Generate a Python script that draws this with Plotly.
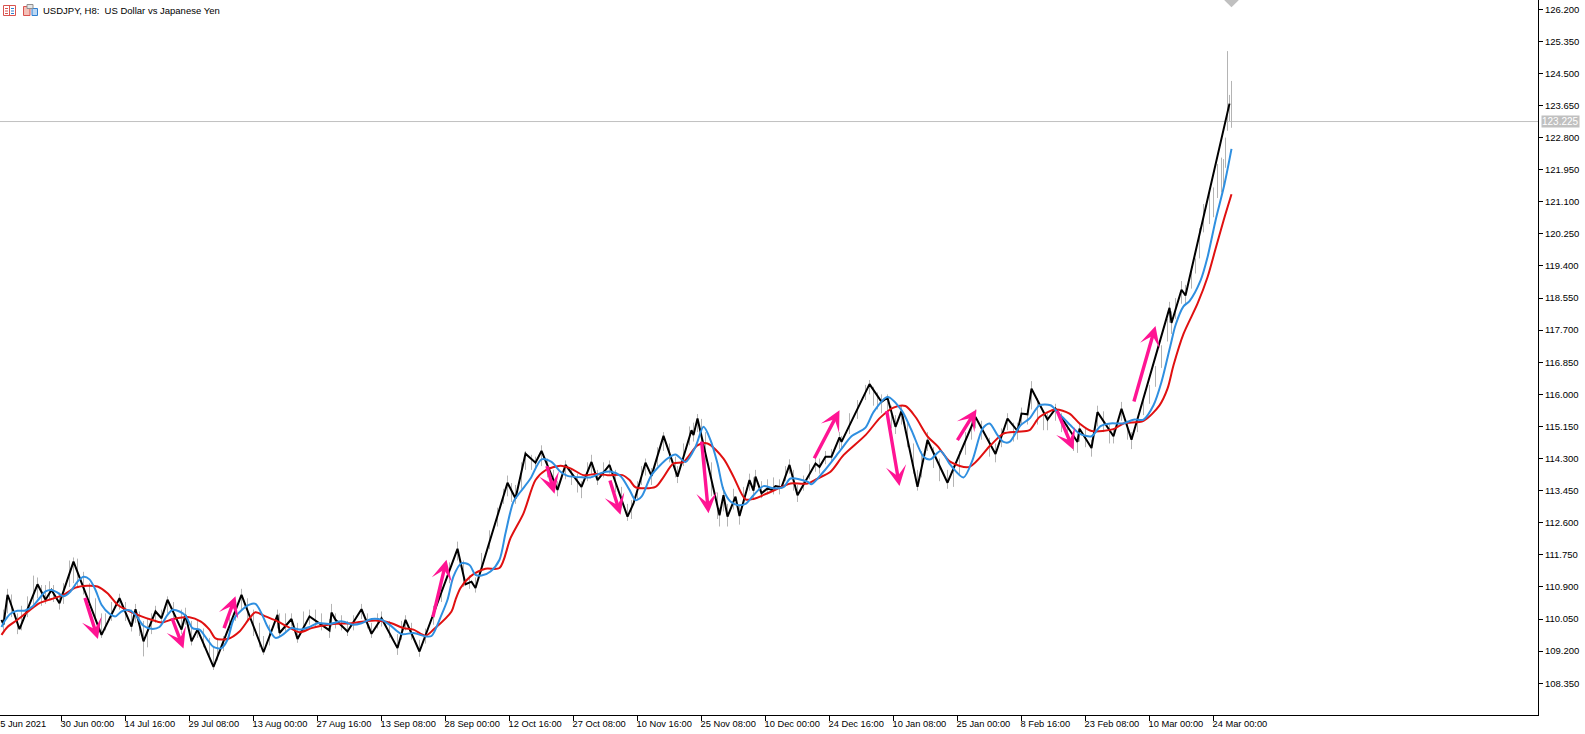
import plotly.graph_objects as go

# zigzag vertices (bar number, price)
zig_bars = [0, 1, 3, 4, 9, 18, 22, 25, 29, 36, 50, 59, 65, 67, 71, 77, 80, 83, 90, 92, 95, 98, 106, 120, 131, 138, 139, 145, 148, 154, 164, 165, 167, 173, 180, 185, 190, 198, 202, 209,
            228, 232, 235, 237, 253, 257, 262, 267, 270, 278, 282, 290, 295, 298, 304, 313, 316, 322, 325, 331, 338, 345, 346, 348, 359, 361, 363, 367, 369, 374, 376, 377, 380, 383, 385, 387, 390, 394, 398,
            407, 409, 412, 415, 419, 420, 434, 440, 443, 447, 450, 458, 463, 473, 487, 497, 503, 508, 510, 513, 515, 523, 527, 538, 539, 545, 548, 556, 560, 565, 584, 585, 590, 592, 614]
zig_prices = [110.03, 109.90, 110.69, 110.56, 109.78, 110.97, 110.56, 110.82, 110.47, 111.57, 109.63, 110.60, 109.85, 110.31, 109.46, 110.25, 110.07, 110.56, 109.77, 110.16, 109.46, 109.77, 108.78, 110.69, 109.17, 110.16, 109.68, 110.05, 109.52, 110.12, 109.75, 110.22, 110.03, 109.72, 110.31, 109.66, 110.07, 109.28, 110.03, 109.19,
              111.91, 110.97, 111.04, 110.87, 113.66, 113.24, 114.43, 114.19, 114.50, 113.47, 114.13, 113.55, 114.21, 113.73, 114.13, 112.76, 113.11, 114.19, 113.84, 114.90, 113.82, 115.05, 114.92, 115.36, 112.80, 113.33, 112.76, 113.29, 112.78, 113.73, 113.45, 113.82, 113.38, 113.51, 113.47, 113.57, 113.54, 114.13, 113.33,
              114.17, 114.08, 114.35, 114.35, 114.86, 114.74, 116.27, 115.80, 115.91, 115.14, 115.56, 113.55, 114.79, 113.66, 115.40, 114.42, 115.36, 115.03, 115.49, 115.47, 116.15, 115.33, 115.62, 114.74, 115.09, 114.58, 115.53, 114.89, 115.62, 114.80, 118.29, 117.89, 118.77, 118.62, 123.70]

# fast moving average
blue_bars = [0, 2, 4.5, 8, 11.5, 15.5, 19, 22, 25, 28, 31, 34.5, 38, 41, 44, 47, 50, 54, 57, 60, 64, 67, 71, 75, 79, 83, 85.5, 89, 92, 95.5, 99, 103, 106, 110, 113, 116, 120, 124, 127, 130, 133, 137, 140.5, 145, 149, 154, 158, 164, 170, 176, 180, 185, 190, 194, 200, 206, 212, 215, 220, 223,
             226, 230, 234, 237, 240, 244.5, 249, 252, 256, 259.5, 264.5, 270, 275, 279.5, 283, 291, 294.5, 300, 305, 309.5, 314, 317, 320, 325, 333, 337, 342, 347, 351, 354.5, 358, 361, 364.5, 368, 372, 376, 381, 386, 391,
             394.5, 403, 405, 411, 419.5, 425, 432, 436, 443, 450, 455, 461, 464.5, 469.5, 474.5, 481, 485.5, 490.5, 494, 498, 501, 504, 509.5, 514, 519, 524.5, 528, 534.5, 539, 545, 549.5, 554.5, 561, 566, 571, 576, 580, 584.5, 587, 591, 594, 599.5, 603, 607, 611.5, 615]
blue_prices = [109.84, 110.03, 110.19, 110.27, 110.27, 110.38, 110.60, 110.78, 110.82, 110.75, 110.65, 110.78, 111.04, 111.17, 111.10, 110.82, 110.43, 110.19, 110.12, 110.25, 110.28, 110.16, 109.87, 109.79, 109.84, 110.16, 110.29, 110.25, 110.14, 109.81, 109.77, 109.50, 109.31, 109.28, 109.50, 110.03, 110.28, 110.43, 110.45, 110.20, 109.85, 109.55, 109.63, 109.81, 109.77, 109.84, 109.94, 109.92, 109.99, 109.90, 109.94, 110.05, 110.03, 109.90, 109.65, 109.68, 109.59, 109.60, 110.16, 110.56,
               111.18, 111.53, 111.48, 111.22, 111.20, 111.31, 111.62, 112.32, 113.16, 113.42, 113.77, 114.28, 114.21, 113.95, 113.84, 113.80, 113.80, 113.92, 113.95, 113.84, 113.47, 113.20, 113.29, 113.86, 114.30, 114.41, 114.21, 114.61, 115.14, 114.79, 114.17, 113.47, 113.16, 113.07, 113.10, 113.33, 113.57, 113.51, 113.54,
               113.77, 113.69, 113.62, 113.95, 114.52, 114.89, 115.12, 115.53, 115.93, 115.58, 115.05, 114.35, 114.28, 114.50, 114.13, 113.80, 114.26, 115.09, 115.23, 114.92, 114.74, 114.74, 115.18, 115.36, 115.71, 115.71, 115.53, 115.18, 114.96, 114.89, 115.16, 115.23, 115.23, 115.33, 115.33, 115.71, 116.33, 117.30, 117.83, 118.33, 118.47, 119.01, 119.63, 120.60, 121.57, 122.50]

# slow moving average
red_bars = [0, 3, 8, 14, 19, 25, 31, 37, 43, 48, 53, 58, 63, 70, 75, 80, 86, 94, 99.5, 104, 107, 113, 119, 124, 127, 132, 138, 143, 149, 155, 160, 166, 175, 183, 190, 195, 201, 206, 212, 216, 225,
            227, 229.5, 234.5, 242, 249, 254.5, 261, 267, 272, 279.5, 284.5, 291, 297, 303, 310.5, 314, 317, 327, 330.5, 336, 341, 348, 353, 361, 366, 372, 376, 383, 391, 394.5,
            403, 408, 414.5, 421, 432, 439.5, 446, 452, 457, 463, 468, 474.5, 484, 494.5, 501, 508, 514, 519, 527, 534, 539, 545, 556, 561, 571, 579, 583, 586, 591, 598, 603, 607, 611, 615]
red_prices = [109.63, 109.84, 110.03, 110.28, 110.47, 110.58, 110.69, 110.88, 110.93, 110.91, 110.73, 110.43, 110.28, 110.12, 110.03, 109.96, 110.05, 110.10, 109.99, 109.77, 109.54, 109.52, 109.72, 110.07, 110.23, 110.12, 109.99, 109.85, 109.70, 109.81, 109.87, 109.92, 109.94, 110.00, 110.00, 109.94, 109.81, 109.77, 109.61, 109.77, 110.25,
              110.56, 110.87, 111.18, 111.38, 111.40, 112.19, 112.85, 113.73, 113.99, 114.11, 114.04, 113.86, 113.89, 113.86, 113.86, 113.73, 113.54, 113.55, 113.77, 114.17, 114.21, 114.65, 114.70, 114.30, 113.82, 113.22, 113.23, 113.38, 113.57, 113.64,
              113.64, 113.77, 113.95, 114.39, 114.92, 115.39, 115.65, 115.69, 115.40, 114.89, 114.63, 114.21, 114.08, 114.65, 114.96, 115.01, 115.05, 115.40, 115.60, 115.49, 115.23, 115.03, 115.08, 115.23, 115.30, 115.71, 116.15, 116.77, 117.60, 118.40, 119.10, 119.85, 120.60, 121.30]

# grey bar ranges: bar, low, high
wick_bars = [1, 3, 5, 8, 10, 13, 16, 18, 20, 22, 24, 26, 29, 31, 34, 36, 38, 41, 44, 47, 50, 52, 55, 59, 62, 65, 67, 69, 71, 73, 75, 77, 80, 83, 86, 90, 92, 95, 98, 101, 104, 106, 108, 111, 114, 117, 120, 123, 126, 129, 131, 134, 138, 139, 142, 145, 148, 151, 154, 157, 160, 164, 165, 167, 170, 173, 176, 180, 183, 185, 188, 190, 194, 198, 200, 202, 205, 209, 212, 216, 220, 224,
             228, 231, 234, 237, 240, 244, 248, 251, 253, 255, 257, 260, 262, 265, 267, 270, 273, 276, 278, 282, 285, 288, 290, 293, 295, 298, 301, 304, 307, 310, 313, 315, 318, 320, 322, 325, 328, 331, 334, 337, 338, 341, 344, 346, 348, 350, 352, 355, 358, 359, 361, 363, 366, 369, 371, 374, 376, 377, 380, 383, 386, 389, 392, 394, 396, 398,
             401, 404, 407, 409, 412, 415, 419, 420, 424, 428, 432, 434, 436, 438, 440, 443, 445, 447, 450, 453, 456, 458, 460, 463, 466, 469, 473, 476, 479, 482, 485, 487, 490, 494, 497, 500, 503, 506, 508, 510, 513, 515, 518, 521, 523, 527, 530, 533, 536, 538, 539, 542, 545, 548, 551, 554, 556, 560, 563, 565, 568, 571, 574, 577, 580, 583, 584, 585, 587, 590, 592, 595, 597, 599, 601, 604, 606, 608, 610, 611, 612, 613, 614, 615]
wick_lows = [109.7, 110.2, 110.1, 109.65, 109.75, 110.1, 110.45, 110.6, 110.4, 110.45, 110.55, 110.5, 110.3, 110.45, 110.9, 111.0, 110.9, 110.7, 110.4, 110.0, 109.55, 109.75, 110.0, 110.3, 110.0, 109.72, 109.95, 109.6, 109.06, 109.3, 109.65, 109.95, 109.9, 110.2, 109.95, 109.65, 109.9, 109.35, 109.55, 109.3, 109.0, 108.7, 108.95, 109.2, 109.55, 110.0, 110.3, 110.0, 109.6, 109.3, 109.1, 109.35, 109.8, 109.6, 109.7, 109.85, 109.42, 109.75, 109.9, 109.85, 109.75, 109.55, 109.85, 109.8, 109.75, 109.6, 109.75, 110.05, 109.8, 109.55, 109.8, 109.85, 109.55, 109.1, 109.5, 109.75, 109.5, 109.05, 109.4, 109.9, 110.5, 111.0,
             111.6, 110.9, 110.85, 110.75, 111.3, 111.9, 112.5, 113.1, 113.3, 113.15, 113.1, 113.5, 114.0, 114.0, 114.0, 114.1, 113.8, 113.5, 113.3, 113.75, 113.6, 113.4, 113.25, 113.7, 113.9, 113.6, 113.8, 113.9, 113.4, 113.0, 112.65, 112.7, 113.2, 113.6, 113.85, 113.6, 114.1, 114.5, 114.2, 113.8, 113.65, 114.1, 114.65, 114.75, 115.0, 114.6, 114.0, 113.3, 112.7, 112.5, 112.9, 112.5, 112.95, 112.55, 113.1, 113.45, 113.2, 113.55, 113.25, 113.35, 113.35, 113.35, 113.7, 113.9, 113.45, 113.15,
             113.45, 113.75, 113.95, 113.9, 114.15, 114.2, 114.55, 114.55, 114.95, 115.35, 115.85, 116.0, 115.7, 115.6, 115.5, 115.55, 115.1, 114.95, 115.2, 114.6, 113.9, 113.45, 113.8, 114.5, 114.05, 113.7, 113.5, 113.55, 113.85, 114.4, 114.8, 115.1, 114.8, 114.35, 114.2, 114.6, 115.05, 114.75, 114.8, 115.2, 115.2, 115.6, 115.2, 115.05, 115.05, 115.3, 115.0, 114.8, 114.5, 114.45, 114.75, 114.6, 114.35, 115.15, 115.0, 114.7, 114.7, 115.3, 114.8, 114.55, 115.0, 115.45, 115.75, 116.2, 116.7, 117.4, 117.9, 117.6, 118.0, 118.4, 118.4, 118.8, 119.2, 119.6, 120.29, 120.51, 120.69, 121.2, 121.35, 121.48, 122.0, 122.98, 123.24, 123.06]
wick_highs = [110.3, 110.85, 110.7, 110.2, 110.4, 110.65, 111.2, 111.15, 110.95, 110.95, 111.05, 110.95, 110.75, 111.0, 111.6, 111.68, 111.65, 111.3, 111.0, 110.6, 110.2, 110.2, 110.5, 110.72, 110.5, 110.3, 110.45, 110.25, 110.0, 110.05, 110.2, 110.4, 110.3, 110.65, 110.5, 110.3, 110.35, 110.0, 110.0, 109.8, 109.55, 109.3, 109.5, 109.6, 110.1, 110.55, 110.85, 110.6, 110.3, 109.95, 109.6, 109.9, 110.3, 110.2, 110.2, 110.2, 109.95, 110.25, 110.3, 110.3, 110.2, 110.05, 110.45, 110.2, 110.15, 110.0, 110.15, 110.45, 110.2, 109.95, 110.2, 110.25, 110.0, 109.65, 110.0, 110.15, 109.95, 109.5, 109.8, 110.4, 111.0, 111.55,
              112.1, 111.6, 111.2, 111.15, 111.8, 112.4, 113.0, 113.5, 113.85, 113.65, 113.6, 114.2, 114.5, 114.4, 114.35, 114.65, 114.3, 114.0, 113.7, 114.25, 114.05, 113.9, 113.7, 114.2, 114.4, 114.0, 114.2, 114.25, 114.0, 113.55, 113.1, 113.2, 113.7, 114.1, 114.3, 114.05, 114.6, 115.0, 114.7, 114.35, 114.1, 114.7, 115.15, 115.25, 115.48, 115.35, 115.0, 114.2, 113.4, 113.0, 113.55, 113.1, 113.5, 113.05, 113.55, 113.9, 113.8, 114.0, 113.7, 113.75, 113.8, 113.75, 114.1, 114.28, 114.0, 113.6,
              113.85, 114.15, 114.35, 114.3, 114.5, 114.55, 115.0, 114.9, 115.5, 115.85, 116.25, 116.38, 116.2, 116.05, 116.0, 116.0, 115.7, 115.45, 115.7, 115.3, 114.7, 114.0, 114.5, 115.0, 114.6, 114.3, 114.0, 114.1, 114.5, 115.0, 115.4, 115.6, 115.3, 114.85, 114.7, 115.1, 115.5, 115.25, 115.25, 115.65, 115.6, 116.35, 115.9, 115.55, 115.5, 115.75, 115.5, 115.2, 115.0, 114.9, 115.25, 115.1, 114.8, 115.7, 115.55, 115.2, 115.1, 115.8, 115.3, 115.0, 115.4, 115.95, 116.25, 116.75, 117.3, 118.0, 118.45, 118.2, 118.55, 119.0, 118.9, 119.4, 119.6, 120.4, 121.04, 121.39, 121.48, 122.1, 122.27, 122.23, 122.8, 125.09, 123.93, 124.3]

# arrows: tail bar/price to head bar/price
arrow_tail_bars = [41.5, 85, 111, 215.5, 272.5, 304, 350, 406, 442.5, 477.5, 527.5, 566]
arrow_tail_prices = [110.65, 110.11, 109.77, 110.06, 114.14, 113.76, 114.79, 114.27, 115.60, 114.75, 115.60, 115.77]
arrow_head_bars = [48.2, 91, 117, 222.5, 276.5, 309.5, 353.5, 419, 449, 487.5, 536, 577]
arrow_head_prices = [109.52, 109.27, 110.65, 111.62, 113.37, 112.81, 112.85, 115.58, 113.57, 115.60, 114.53, 117.81]

price_ticks = [108.35, 109.2, 110.05, 110.9, 111.75, 112.6, 113.45, 114.3, 115.15, 116.0, 116.85, 117.7, 118.55, 119.4, 120.25, 121.1, 121.95, 122.8, 123.65, 124.5, 125.35, 126.2]
time_ticks = [30, 62, 94, 126, 158, 190, 222, 254, 286, 318, 350, 382, 414, 446, 478, 510, 542, 574, 606]
time_labels = ['30 Jun 00:00', '14 Jul 16:00', '29 Jul 08:00', '13 Aug 00:00', '27 Aug 16:00', '13 Sep 08:00', '28 Sep 00:00', '12 Oct 16:00', '27 Oct 08:00', '10 Nov 16:00',
               '25 Nov 08:00', '10 Dec 00:00', '24 Dec 16:00', '10 Jan 08:00', '25 Jan 00:00', '8 Feb 16:00', '23 Feb 08:00', '10 Mar 00:00', '24 Mar 00:00']
first_label = '15 Jun 2021'
last_price = 123.225
last_bar = 615
title_text = 'USDJPY, H8:\u00a0\u00a0US Dollar vs Japanese Yen'

PLOT_W = 1538
PLOT_H = 715
FONT = 'Liberation Sans'

wick_x = []
wick_y = []
for b, lo, hi in zip(wick_bars, wick_lows, wick_highs):
    wick_x += [b, b, None]
    wick_y += [lo, hi, None]

fig = go.Figure()
fig.add_trace(go.Scatter(x=wick_x, y=wick_y, mode='lines', line=dict(color='#b4b4b4', width=1)))
fig.add_trace(go.Scatter(x=zig_bars, y=zig_prices, mode='lines', line=dict(color='#000000', width=2)))
fig.add_trace(go.Scatter(x=red_bars, y=red_prices, mode='lines', line=dict(color='#e01010', width=2, shape='spline', smoothing=0.8)))
fig.add_trace(go.Scatter(x=blue_bars, y=blue_prices, mode='lines', line=dict(color='#2f8fe0', width=2, shape='spline', smoothing=0.8)))
# marker cut by the top of the chart
fig.add_trace(go.Scatter(x=[last_bar], y=[126.44], mode='markers',
                         marker=dict(symbol='diamond', size=11, color='#c0c0c0')))

fig.add_hline(y=last_price, line_color='#c0c0c0', line_width=1, layer='below')

for tb, tp, hb, hp in zip(arrow_tail_bars, arrow_tail_prices, arrow_head_bars, arrow_head_prices):
    fig.add_annotation(x=hb, y=hp, ax=tb, ay=tp, xref='x', yref='y', axref='x', ayref='y', text='',
                       showarrow=True, arrowhead=3, arrowsize=1.0, arrowwidth=3.4, arrowcolor='#ff1493')

fig.add_annotation(x=1, xref='paper', y=last_price, yref='y', xanchor='left', xshift=3, showarrow=False,
                   text='%.3f' % last_price, bgcolor='#c0c0c0', borderpad=0,
                   font=dict(family=FONT, size=10, color='#ffffff'))
fig.add_annotation(x=-7 / PLOT_W, xref='paper', y=0, yref='paper', yshift=-2, xanchor='left', yanchor='top',
                   showarrow=False, text=first_label, font=dict(family=FONT, size=9.3, color='#000000'))
fig.add_annotation(x=41 / PLOT_W, xref='paper', y=1 - 11 / PLOT_H, yref='paper', xanchor='left', yanchor='middle',
                   showarrow=False, text=title_text, font=dict(family=FONT, size=9.5, color='#000000'))


def box(x0, y0, x1, y1, line=None, fill=None):
    fig.add_shape(type='rect', xref='paper', yref='paper', x0=x0 / PLOT_W, x1=x1 / PLOT_W,
                  y0=1 - y0 / PLOT_H, y1=1 - y1 / PLOT_H,
                  line=dict(color=line, width=1) if line else dict(width=0), fillcolor=fill)


# toolbar icons next to the symbol name
box(3.5, 5.5, 15.5, 15.5, line='#d9534f', fill='#ffffff')
box(9, 6, 10, 15, fill='#d9534f')
for yy in [8, 10.5, 13]:
    box(5, yy, 8, yy + 1, fill='#d9534f')
    box(11, yy, 14, yy + 1, fill='#2f7fd0')
box(23.5, 6.5, 30, 15.5, line='#d9534f', fill='#f4c0b8')
box(32, 8.5, 37.5, 15.5, line='#2f7fd0', fill='#bcd8f4')
box(27, 4.5, 33, 8.5, line='#909090', fill='#e6e6e6')

fig.update_xaxes(range=[-0.75, -0.75 + PLOT_W / 2], tickmode='array', tickvals=time_ticks, ticktext=time_labels,
                 ticklabelposition='outside right', ticklabelshift=-2, tickangle=0, ticks='outside', ticklen=5, tickcolor='#000000',
                 showgrid=False, zeroline=False, showline=True, linecolor='#000000', linewidth=1,
                 tickfont=dict(family=FONT, size=9.3, color='#000000'))
fig.update_yaxes(range=[126.2 - 705.8 / 37.76, 126.2 + 9.2 / 37.76], side='right', tickmode='array', tickvals=price_ticks,
                 tickformat='.3f', ticks='outside', ticklen=4, tickcolor='#000000',
                 showgrid=False, zeroline=False, showline=True, linecolor='#000000', linewidth=1,
                 tickfont=dict(family=FONT, size=9.5, color='#000000'))
fig.update_layout(width=1585, height=734, margin=dict(l=0, r=47, t=0, b=19, autoexpand=False),
                  plot_bgcolor='#ffffff', paper_bgcolor='#ffffff', showlegend=False)

fig.write_html('out.html', config=dict(displayModeBar=False),
               post_script="document.body.style.margin='0';document.documentElement.style.overflow='hidden';")
